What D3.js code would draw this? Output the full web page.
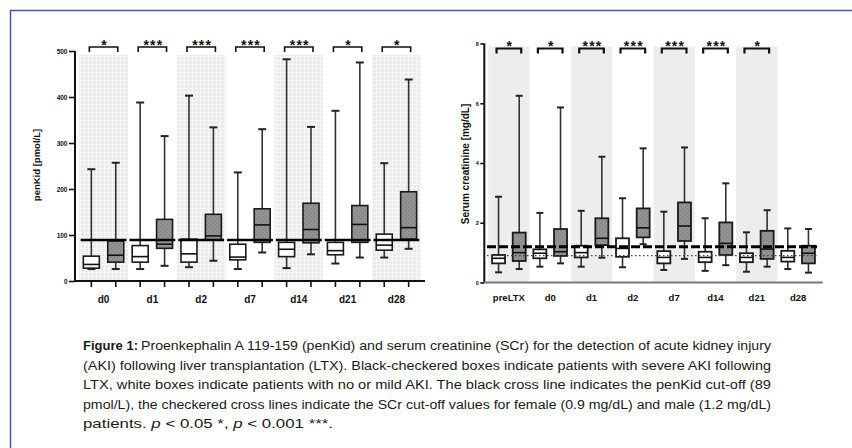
<!DOCTYPE html>
<html>
<head>
<meta charset="utf-8">
<script src="https://cdn.jsdelivr.net/npm/d3@7"></script>
<style>
  html, body { margin: 0; padding: 0; background: #fff; }
  svg { display: block; }
  .ax { font-family: "Liberation Sans", Arial, sans-serif; font-weight: bold; fill: #111; }
  .cap { font-family: "Liberation Sans Narrow", "Liberation Sans", Arial, sans-serif; fill: #1a1a1a; }
</style>
</head>
<body>
<svg id="fig" width="852" height="448"></svg>
<script>
// ---- penKid panel ----
const penKidDays = ["d0", "d1", "d2", "d7", "d14", "d21", "d28"];
const penKidSig = ["*", "***", "***", "***", "***", "*", "*"];
const penKidShaded = [true, false, true, false, true, false, true];
// five-number summaries: [min, q1, median, q3, max]
const penKidMild = [
  [26, 28, 36, 54, 243], [26, 41, 53, 77, 388], [30, 41, 59, 91, 403],
  [26, 46, 52, 80, 236], [28, 53, 69, 84, 482], [38, 57, 66, 84, 370],
  [51, 67, 78, 102, 256]
];
const penKidSevere = [
  [26, 41, 56, 87, 257], [33, 71, 80, 134, 315], [44, 89, 98, 145, 334],
  [62, 84, 122, 157, 330], [58, 83, 112, 169, 335], [51, 84, 123, 164, 475],
  [70, 91, 116, 194, 438]
];
const penKidTicks = [0, 100, 200, 300, 400, 500];
const penKidCutoff = 89;

// ---- serum creatinine panel ----
const scrDays = ["preLTX", "d0", "d1", "d2", "d7", "d14", "d21", "d28"];
const scrSig = ["*", "*", "***", "***", "***", "***", "*", ""];
const scrShaded = [true, false, true, false, true, false, true, false];
const scrMild = [
  [0.34, 0.64, 0.81, 0.92, 2.87], [0.53, 0.81, 0.98, 1.11, 2.33],
  [0.53, 0.84, 1.00, 1.23, 2.40], [0.51, 0.86, 1.14, 1.48, 2.82],
  [0.42, 0.64, 0.84, 1.05, 2.37], [0.39, 0.68, 0.84, 1.03, 2.15],
  [0.36, 0.68, 0.84, 0.98, 1.68], [0.45, 0.70, 0.84, 1.06, 1.81]
];
const scrSevere = [
  [0.45, 0.72, 1.00, 1.67, 6.25], [0.64, 0.89, 1.03, 1.79, 5.86],
  [0.83, 1.25, 1.48, 2.15, 4.21], [1.28, 1.51, 1.83, 2.48, 4.49],
  [0.79, 1.39, 1.89, 2.68, 4.52], [0.58, 0.92, 1.31, 2.01, 3.32],
  [0.53, 0.79, 1.12, 1.73, 2.42], [0.33, 0.64, 0.98, 1.23, 1.79]
];
const scrTicks = [0, 2, 4, 6, 8];
const scrCutoffFemale = 0.9;
const scrCutoffMale = 1.2;

// ---- caption ----
const captionLines = [
  "Proenkephalin A 119-159 (penKid) and serum creatinine (SCr) for the detection of acute kidney injury",
  "(AKI) following liver transplantation (LTX). Black-checkered boxes indicate patients with severe AKI following",
  "LTX, white boxes indicate patients with no or mild AKI. The black cross line indicates the penKid cut-off (89",
  "pmol/L), the checkered cross lines indicate the SCr cut-off values for female (0.9 mg/dL) and male (1.2 mg/dL)"
];

const svg = d3.select("#fig");
const defs = svg.append("defs");

// fine grid used behind the shaded penKid days
const grid = defs.append("pattern").attr("id", "gridFill")
  .attr("width", 4).attr("height", 4).attr("patternUnits", "userSpaceOnUse");
grid.append("rect").attr("width", 4).attr("height", 4).attr("fill", "#ebebeb");
grid.append("path").attr("d", "M0,0.5H4M0.5,0V4").attr("stroke", "#f7f7f7").attr("stroke-width", 1);

// checkered fill of the severe-AKI boxes
const chk = defs.append("pattern").attr("id", "chkFill")
  .attr("width", 4).attr("height", 4).attr("patternUnits", "userSpaceOnUse");
chk.append("rect").attr("width", 4).attr("height", 4).attr("fill", "#8b8b8b");
chk.append("rect").attr("width", 2).attr("height", 2).attr("fill", "#939393");
chk.append("rect").attr("x", 2).attr("y", 2).attr("width", 2).attr("height", 2).attr("fill", "#939393");

// frame
svg.append("path").attr("d", "M10.5,448V10.5H852")
  .attr("fill", "none").attr("stroke", "#4656a8").attr("stroke-width", 1.5);

function drawPanel(cfg) {
  const keys = [];
  cfg.days.forEach(d => { keys.push(d + "|m"); keys.push(d + "|s"); });
  const x = d3.scalePoint().domain(keys).range(cfg.xRange).padding(cfg.pad);
  const y = d3.scaleLinear().domain(cfg.yDomain).range(cfg.yRange);
  const step = x.step();
  const g = svg.append("g");
  const center = d => (x(d + "|m") + x(d + "|s")) / 2;

  // shaded day bands
  cfg.days.forEach((d, i) => {
    if (!cfg.shaded[i]) return;
    const c = center(d);
    const left = Math.max(c - step, cfg.xRange[0] + 1);
    g.append("rect")
      .attr("x", left).attr("width", c + step - left)
      .attr("y", y(cfg.yDomain[1]) + cfg.bandTop).attr("height", y(0) - y(cfg.yDomain[1]) - cfg.bandTop - 1)
      .attr("fill", cfg.bandFill);
  });

  // boxes and whiskers
  const groups = [];
  cfg.days.forEach((d, i) => {
    groups.push({ key: d + "|m", s: cfg.mild[i], sev: false });
    groups.push({ key: d + "|s", s: cfg.severe[i], sev: true });
  });
  const bw = cfg.boxW, cw = cfg.capW;
  groups.forEach(o => {
    const cx = x(o.key), s = o.s;
    g.append("line").attr("x1", cx).attr("x2", cx).attr("y1", y(s[4])).attr("y2", y(s[0]))
      .attr("stroke", "#333").attr("stroke-width", 1.6);
    [s[0], s[4]].forEach(v => g.append("line")
      .attr("x1", cx - cw / 2).attr("x2", cx + cw / 2).attr("y1", y(v)).attr("y2", y(v))
      .attr("stroke", "#222").attr("stroke-width", 2));
    g.append("rect").attr("x", cx - bw / 2).attr("width", bw)
      .attr("y", y(s[3])).attr("height", y(s[1]) - y(s[3]))
      .attr("fill", o.sev ? "url(#chkFill)" : "#fff")
      .attr("stroke", "#1a1a1a").attr("stroke-width", cfg.boxStroke);
    g.append("line").attr("x1", cx - bw / 2).attr("x2", cx + bw / 2)
      .attr("y1", y(s[2])).attr("y2", y(s[2]))
      .attr("stroke", "#111").attr("stroke-width", 1.6);
  });

  // cut-off lines
  cfg.cutoffs(g, x, y, center, step);

  // y axis
  const ya = g.append("g").attr("transform", `translate(${cfg.xRange[0]},0)`)
    .call(d3.axisLeft(y).tickValues(cfg.ticks).tickSize(cfg.tickLen).tickPadding(1.5).tickFormat(d3.format("d")));
  ya.select(".domain").attr("stroke", "#111").attr("stroke-width", 2)
    .attr("d", `M0,${y(0)}V${y(cfg.yDomain[1])}`);
  ya.selectAll(".tick line").attr("stroke", "#111").attr("stroke-width", 1.6);
  ya.selectAll(".tick text").attr("class", "ax").style("font-size", cfg.tickFont + "px")
    .attr("font-family", null);

  // x axis
  g.append("line").attr("x1", cfg.xRange[0]).attr("x2", cfg.xRange[1])
    .attr("y1", y(0)).attr("y2", y(0)).attr("stroke", cfg.xAxisColor).attr("stroke-width", 2);
  if (cfg.xTicks) {
    keys.forEach(k => g.append("line").attr("x1", x(k)).attr("x2", x(k))
      .attr("y1", y(0)).attr("y2", y(0) + 6).attr("stroke", "#111").attr("stroke-width", 1.6));
  }
  cfg.days.forEach(d => g.append("text").attr("class", "ax")
    .attr("x", center(d)).attr("y", cfg.labelY).attr("text-anchor", "middle")
    .style("font-size", cfg.labelFont + "px").text(d));

  // y label
  g.append("text").attr("class", "ax")
    .attr("transform", `translate(${cfg.yLabelX},${cfg.yLabelY}) rotate(-90)`)
    .attr("text-anchor", "middle").style("font-size", cfg.yLabelFont + "px").text(cfg.yLabel);

  // significance brackets
  cfg.days.forEach((d, i) => {
    if (!cfg.sig[i]) return;
    const x1 = x(d + "|m") - 2, x2 = x(d + "|s") + 2;
    g.append("path").attr("d", `M${x1},${cfg.brY + 5}V${cfg.brY}H${x2}V${cfg.brY + 5}`)
      .attr("fill", "none").attr("stroke", "#111").attr("stroke-width", cfg.brStroke);
    g.append("text").attr("class", "ax").attr("x", center(d) + 1).attr("y", cfg.brY + 2.5)
      .attr("text-anchor", "middle").style("font-size", "14px").style("letter-spacing", "1.2px")
      .text(cfg.sig[i]);
  });
}

drawPanel({
  days: penKidDays, sig: penKidSig, shaded: penKidShaded,
  mild: penKidMild, severe: penKidSevere, ticks: penKidTicks,
  xRange: [75, 425], pad: 0.67, yDomain: [0, 500], yRange: [281, 51],
  bandTop: 4, bandFill: "url(#gridFill)", boxW: 16, capW: 8, boxStroke: 1.6,
  tickLen: 6, tickFont: 6.5, xAxisColor: "#111", xTicks: true,
  labelY: 303, labelFont: 10,
  yLabel: "penKid [pmol/L]", yLabelX: 40, yLabelY: 165, yLabelFont: 9.5,
  brY: 47, brStroke: 1.6,
  cutoffs: (g, x, y, center, step) => {
    penKidDays.forEach(d => {
      const c = center(d);
      g.append("line").attr("x1", c - step + 1.5).attr("x2", c + step - 1.5)
        .attr("y1", y(penKidCutoff)).attr("y2", y(penKidCutoff))
        .attr("stroke", "#000").attr("stroke-width", 2.6);
    });
  }
});

drawPanel({
  days: scrDays, sig: scrSig, shaded: scrShaded,
  mild: scrMild, severe: scrSevere, ticks: scrTicks,
  xRange: [484.3, 822.7], pad: 0.69, yDomain: [0, 8], yRange: [282.5, 43.5],
  bandTop: 3, bandFill: "#ededed", boxW: 13, capW: 7, boxStroke: 1.8,
  tickLen: 4, tickFont: 5.5, xAxisColor: "#777", xTicks: false,
  labelY: 301, labelFont: 9.5,
  yLabel: "Serum creatinine [mg/dL]", yLabelX: 469, yLabelY: 164, yLabelFont: 10,
  brY: 48.5, brStroke: 2.2,
  cutoffs: (g, x, y) => {
    g.append("line").attr("x1", 487).attr("x2", 817)
      .attr("y1", y(scrCutoffMale)).attr("y2", y(scrCutoffMale))
      .attr("stroke", "#000").attr("stroke-width", 3).attr("stroke-dasharray", "9,3");
    g.append("line").attr("x1", 487).attr("x2", 817)
      .attr("y1", y(scrCutoffFemale)).attr("y2", y(scrCutoffFemale))
      .attr("stroke", "#444").attr("stroke-width", 1.2).attr("stroke-dasharray", "1.5,2.5");
  }
});

// caption
const capX = 83, capRight = 771, capY0 = 350, capLead = 19.5, capSize = 12.5;
svg.append("text").attr("class", "cap").attr("x", capX).attr("y", capY0)
  .style("font-size", capSize + "px").style("font-weight", "bold")
  .attr("textLength", 55).attr("lengthAdjust", "spacingAndGlyphs").text("Figure 1:");
captionLines.forEach((line, i) => {
  const x0 = i === 0 ? capX + 58 : capX;
  svg.append("text").attr("class", "cap").attr("x", x0).attr("y", capY0 + i * capLead)
    .style("font-size", capSize + "px")
    .attr("textLength", capRight - x0).attr("lengthAdjust", "spacingAndGlyphs").text(line);
});
const last = svg.append("text").attr("class", "cap").attr("x", capX).attr("y", capY0 + 4 * capLead)
  .style("font-size", capSize + "px")
  .attr("textLength", 250).attr("lengthAdjust", "spacingAndGlyphs");
last.append("tspan").text("patients.  ");
last.append("tspan").style("font-style", "italic").text("p");
last.append("tspan").text(" < 0.05 *, ");
last.append("tspan").style("font-style", "italic").text("p");
last.append("tspan").text(" < 0.001 ***.");
</script>
</body>
</html>
